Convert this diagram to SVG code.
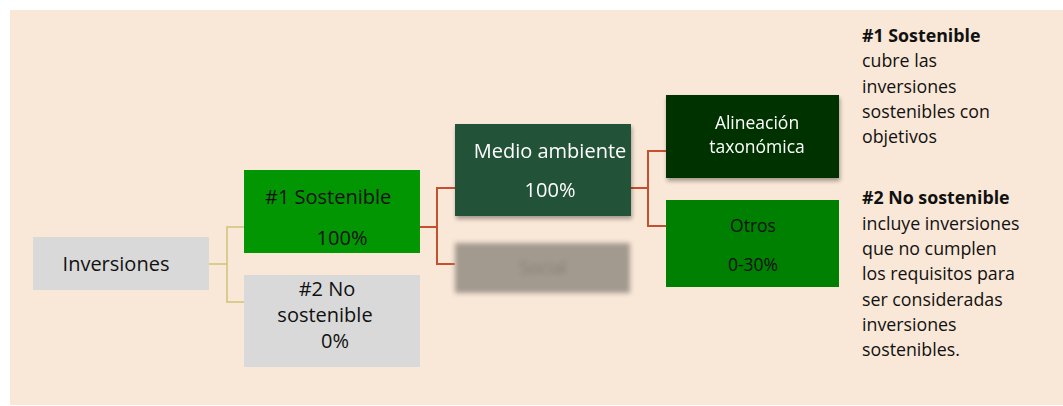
<svg xmlns="http://www.w3.org/2000/svg" width="1063" height="406" viewBox="0 0 1063 406">
<style>
text{font-family:"Open Sans","Liberation Sans",sans-serif;}
.t20{font-size:20px;}
.t18{font-size:17.5px;}
.lg{font-size:17.8px;fill:#111;}
.b{font-weight:bold;}
.c{text-anchor:middle;}
.red{stroke:#c5502f;stroke-width:2;fill:none;}
.yel{stroke:#cfc27a;stroke-width:1.5;fill:none;}
</style>
<defs>
<filter id="sh" x="-10%" y="-10%" width="125%" height="135%">
<feGaussianBlur in="SourceAlpha" stdDeviation="2"/>
<feOffset dx="1" dy="3"/>
<feComponentTransfer><feFuncA type="linear" slope="0.35"/></feComponentTransfer>
<feMerge><feMergeNode/><feMergeNode in="SourceGraphic"/></feMerge>
</filter>
<filter id="blur" x="-10%" y="-20%" width="120%" height="140%">
<feGaussianBlur stdDeviation="2.5"/>
</filter>
</defs>
<rect x="0" y="0" width="1063" height="406" fill="#ffffff"/>
<rect x="10" y="10" width="1053" height="395" fill="#f9e7d7"/>

<g id="connectors">
<polyline class="yel" points="209,264 227,264"/>
<polyline class="yel" points="244,227 227,227 227,302 244,302"/>
<polyline class="red" points="420,227 437,227"/>
<polyline class="red" points="455,188 437,188 437,264 455,264"/>
<polyline class="red" points="631,188 648,188"/>
<polyline class="red" points="666,151 648,151 648,226 666,226"/>
</g>

<g id="node-inversiones">
<rect x="33" y="237" width="176" height="53" fill="#d9d9d9"/>
<text class="t20" x="116" y="271" text-anchor="middle" fill="#111">Inversiones</text>
</g>

<g id="node-sostenible">
<rect x="244" y="170" width="176" height="83" fill="#029702"/>
<text class="t20" x="265" y="204" fill="#111">#1 Sostenible</text>
<text class="t20" x="342" y="245" text-anchor="middle" fill="#111">100%</text>
</g>

<g id="node-no-sostenible">
<rect x="244" y="275" width="176" height="92" fill="#d9d9d9"/>
<text class="t20" x="327" y="296" text-anchor="middle" fill="#111">#2 No</text>
<text class="t20" x="325" y="322" text-anchor="middle" fill="#111">sostenible</text>
<text class="t20" x="335" y="348" text-anchor="middle" fill="#111">0%</text>
</g>

<g id="node-medio-ambiente" filter="url(#sh)">
<rect x="455" y="124" width="176" height="92" fill="#245338"/>
<text class="t20" x="550" y="158" text-anchor="middle" fill="#ffffff">Medio ambiente</text>
<text class="t20" x="550" y="197" text-anchor="middle" fill="#ffffff">100%</text>
</g>

<g id="node-social" filter="url(#blur)">
<rect x="455" y="243" width="175" height="50" fill="#a39a8f"/>
<text class="t18" x="543" y="274" text-anchor="middle" fill="#857c71">Social</text>
</g>

<g id="node-alineacion" filter="url(#sh)">
<rect x="666" y="95" width="173" height="83" fill="#003300"/>
<text class="t18" x="757" y="129" text-anchor="middle" fill="#ffffff">Alineación</text>
<text class="t18" x="757" y="153" text-anchor="middle" fill="#ffffff">taxonómica</text>
</g>

<g id="node-otros">
<rect x="666" y="200" width="173" height="87" fill="#008000"/>
<text class="t18" x="753" y="232" text-anchor="middle" fill="#111">Otros</text>
<text class="t18" x="753" y="271" text-anchor="middle" fill="#111">0-30%</text>
</g>

<g id="legend">
<text class="lg" x="862" y="42"><tspan class="b">#1 Sostenible</tspan><tspan x="862" y="67">cubre las</tspan><tspan x="862" y="93">inversiones</tspan><tspan x="862" y="118">sostenibles con</tspan><tspan x="862" y="143">objetivos</tspan></text>
<text class="lg" x="862" y="204"><tspan class="b">#2 No sostenible</tspan><tspan x="862" y="230">incluye inversiones</tspan><tspan x="862" y="255">que no cumplen</tspan><tspan x="862" y="280">los requisitos para</tspan><tspan x="862" y="306">ser consideradas</tspan><tspan x="862" y="331">inversiones</tspan><tspan x="862" y="356">sostenibles.</tspan></text>
</g>
</svg>
